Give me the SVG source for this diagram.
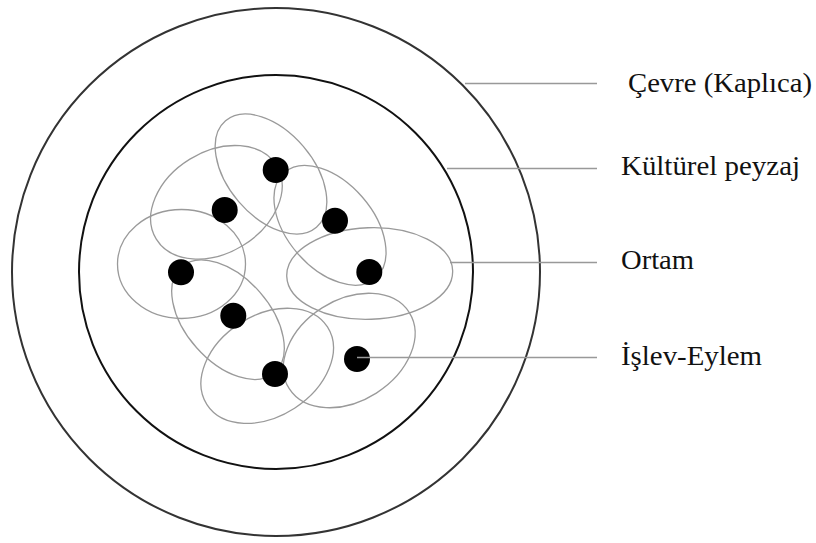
<svg xmlns="http://www.w3.org/2000/svg" width="816" height="543" viewBox="0 0 816 543">
<style>
.ring{fill:none;stroke-width:2}
.ell{fill:none;stroke:#9a9a9a;stroke-width:1.3}
.dot{fill:#000}
.lead{stroke:#999;stroke-width:1.3;fill:none}
.lbl{font-family:"Liberation Serif","Times New Roman",serif;font-size:27px;fill:#111}
</style>
<rect width="816" height="543" fill="#fff"/>
<g id="cevre">
<circle class="ring" cx="276" cy="272" r="264" stroke="#333"/>
<text class="lbl" x="628" y="92" textLength="184" lengthAdjust="spacingAndGlyphs">Çevre (Kaplıca)</text>
</g>
<g id="kulturel-peyzaj">
<circle class="ring" cx="276" cy="272" r="197" stroke="#111"/>
<text class="lbl" x="621" y="175" textLength="179" lengthAdjust="spacingAndGlyphs">Kültürel peyzaj</text>
</g>
<g id="ortam">
<ellipse class="ell" cx="271" cy="174" rx="70" ry="42.5" transform="rotate(49.5 271 174)"/>
<ellipse class="ell" cx="216.4" cy="202.3" rx="70.5" ry="50.7" transform="rotate(-31.5 216.4 202.3)"/>
<ellipse class="ell" cx="181.5" cy="264" rx="64" ry="54.5"/>
<ellipse class="ell" cx="228" cy="319.7" rx="70.4" ry="42.1" transform="rotate(48.6 228 319.7)"/>
<ellipse class="ell" cx="267.2" cy="365.8" rx="71.7" ry="50.5" transform="rotate(-32.8 267.2 365.8)"/>
<ellipse class="ell" cx="349.2" cy="350.5" rx="71.1" ry="50.5" transform="rotate(-32.5 349.2 350.5)"/>
<ellipse class="ell" cx="369.7" cy="273.5" rx="83" ry="45.8" transform="rotate(-2 369.7 273.5)"/>
<ellipse class="ell" cx="330" cy="225.3" rx="69.8" ry="42.9" transform="rotate(49.2 330 225.3)"/>
<text class="lbl" x="621" y="269" textLength="73" lengthAdjust="spacingAndGlyphs">Ortam</text>
</g>
<g id="islev-eylem">
<circle class="dot" cx="275.7" cy="170" r="13"/>
<circle class="dot" cx="224.7" cy="210" r="13"/>
<circle class="dot" cx="335" cy="220.7" r="13"/>
<circle class="dot" cx="181" cy="272.3" r="13"/>
<circle class="dot" cx="369.3" cy="272" r="13"/>
<circle class="dot" cx="233.3" cy="315.7" r="13"/>
<circle class="dot" cx="275" cy="374" r="13"/>
<circle class="dot" cx="357" cy="359" r="13"/>
<text class="lbl" x="621" y="365" textLength="141" lengthAdjust="spacingAndGlyphs">İşlev-Eylem</text>
</g>
<g id="connectors">
<line class="lead" x1="465" y1="83.5" x2="597" y2="83.5"/>
<line class="lead" x1="447" y1="168.5" x2="597" y2="168.5"/>
<line class="lead" x1="450" y1="262.5" x2="597" y2="262.5"/>
<line class="lead" x1="357" y1="357.5" x2="597" y2="357.5"/>
</g>
</svg>
